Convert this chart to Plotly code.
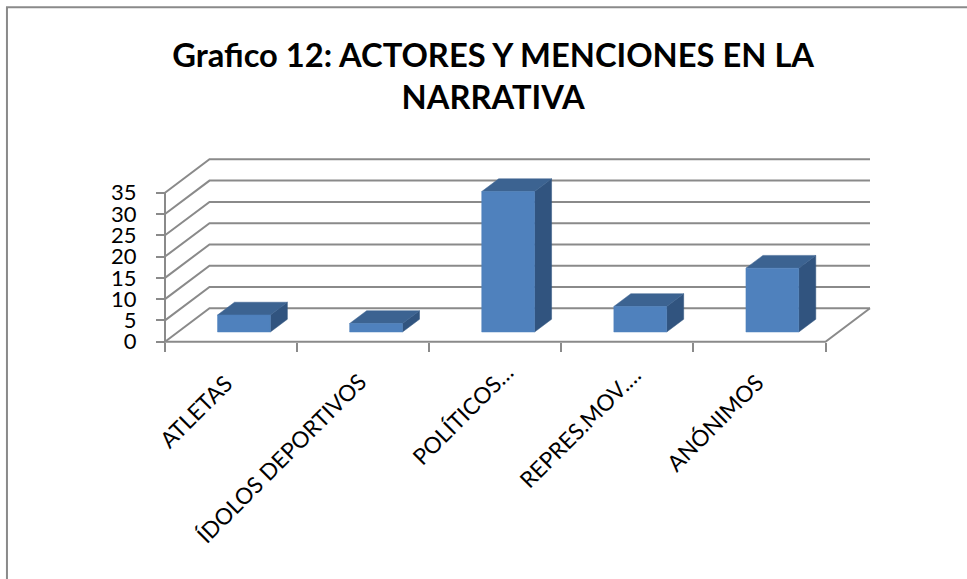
import plotly.graph_objects as go

# valores
categorias = ["ATLETAS", "ÍDOLOS DEPORTIVOS", "POLÍTICOS…", "REPRES.MOV.…", "ANÓNIMOS"]
menciones = [4, 2, 33, 6, 15]
ticks_y = [0, 5, 10, 15, 20, 25, 30, 35]
titulo = "Grafico 12: ACTORES Y MENCIONES EN LA<br>NARRATIVA"

W, H = 967, 579
X0_PX, Y0_PX = 165, 341.7    # donde cae (categoria 0, valor 0)
CAT_PX = 132.1
VAL_PX = 4.257

# profundidad oblicua de la caja 3D, en unidades de los ejes
DX = 44.5 / CAT_PX
DY = 33.4 / VAL_PX
ANCHO_BARRA = 0.4
P0, P1 = 0.29, 0.672

# cada etiqueta girada queda distinta respecto de su categoria (pixeles)
etiqueta_dx = [-35.5, -82.5, -33, -48, -44.5]
etiqueta_dy = [-69.3, -116.3, -72.3, -85.3, -80.3]

GRIS = "#8A8A8A"
AZUL_FRENTE = "#4F81BD"
AZUL_TOPE = "#3C6391"
AZUL_LADO = "#31547F"
FUENTE = "Lato, Carlito, sans-serif"

fig = go.Figure()


def poly(xs, ys, color):
    fig.add_trace(go.Scatter(x=xs, y=ys, mode="lines", fill="toself", fillcolor=color,
                             line=dict(color=color, width=0.5), hoverinfo="skip", showlegend=False))


def linea(xs, ys, ancho=2):
    fig.add_trace(go.Scatter(x=xs, y=ys, mode="lines", line=dict(color=GRIS, width=ancho),
                             hoverinfo="skip", showlegend=False))


n = len(categorias)

# paredes y piso
for t in ticks_y:
    linea([0, DX, n + DX], [t, t + DY, t + DY])
linea([0, 0], [0, ticks_y[-1]])
linea([0, n, n + DX], [0, 0, DY])

# barras
for i, v in enumerate(menciones):
    a = i + 0.5 - ANCHO_BARRA / 2
    b = i + 0.5 + ANCHO_BARRA / 2
    dx0, dy0 = P0 * DX, P0 * DY
    dx1, dy1 = P1 * DX, P1 * DY
    # lado derecho
    poly([b + dx0, b + dx1, b + dx1, b + dx0, b + dx0],
         [dy0, dy1, v + dy1, v + dy0, dy0], AZUL_LADO)
    # tope
    poly([a + dx0, b + dx0, b + dx1, a + dx1, a + dx0],
         [v + dy0, v + dy0, v + dy1, v + dy1, v + dy0], AZUL_TOPE)
    # frente
    poly([a + dx0, b + dx0, b + dx0, a + dx0, a + dx0],
         [dy0, dy0, v + dy0, v + dy0, dy0], AZUL_FRENTE)

# etiquetas de categoria a 45 grados
for i, cat in enumerate(categorias):
    fig.add_annotation(x=i + 0.5, y=0, text=cat, textangle=-45, showarrow=False,
                       xanchor="center", yanchor="middle",
                       xshift=etiqueta_dx[i], yshift=etiqueta_dy[i],
                       font=dict(size=22.5, color="black", family=FUENTE))

x_range = [-X0_PX / CAT_PX, (W - X0_PX) / CAT_PX]
y_range = [(Y0_PX - H) / VAL_PX, Y0_PX / VAL_PX]
pos_x_axis = (H - Y0_PX) / H

fig.update_layout(
    width=W, height=H,
    margin=dict(l=0, r=0, t=0, b=0),
    paper_bgcolor="white", plot_bgcolor="white",
    font=dict(family=FUENTE, color="black"),
    title=dict(text=titulo, x=0.51, xanchor="center", y=0.885, yanchor="top",
               font=dict(size=32.7, family=FUENTE, weight="bold", color="black")),
    xaxis=dict(range=x_range, domain=[0, 1], anchor="free", position=pos_x_axis,
               showgrid=False, zeroline=False, showline=False,
               tickmode="array", tickvals=list(range(n + 1)), showticklabels=False,
               ticks="outside", ticklen=9, tickwidth=2, tickcolor=GRIS),
    yaxis=dict(range=y_range, domain=[0, 1], anchor="free", position=X0_PX / W,
               showgrid=False, zeroline=False, showline=False,
               tickmode="array", tickvals=ticks_y,
               ticks="outside", ticklen=9, tickwidth=2, tickcolor=GRIS,
               ticklabelstandoff=15,
               tickfont=dict(size=22, color="black")),
    # marco exterior
    shapes=[dict(type="path", xref="paper", yref="paper",
                 path="M 0.0072 0 L 0.0072 0.9875 L 1 0.9875",
                 line=dict(color=GRIS, width=2))],
)

# sin el margen por defecto del body, la figura ocupa toda la ventana
fig.write_html("out.html", config={"displayModeBar": False},
               post_script="document.body.style.margin='0';")
